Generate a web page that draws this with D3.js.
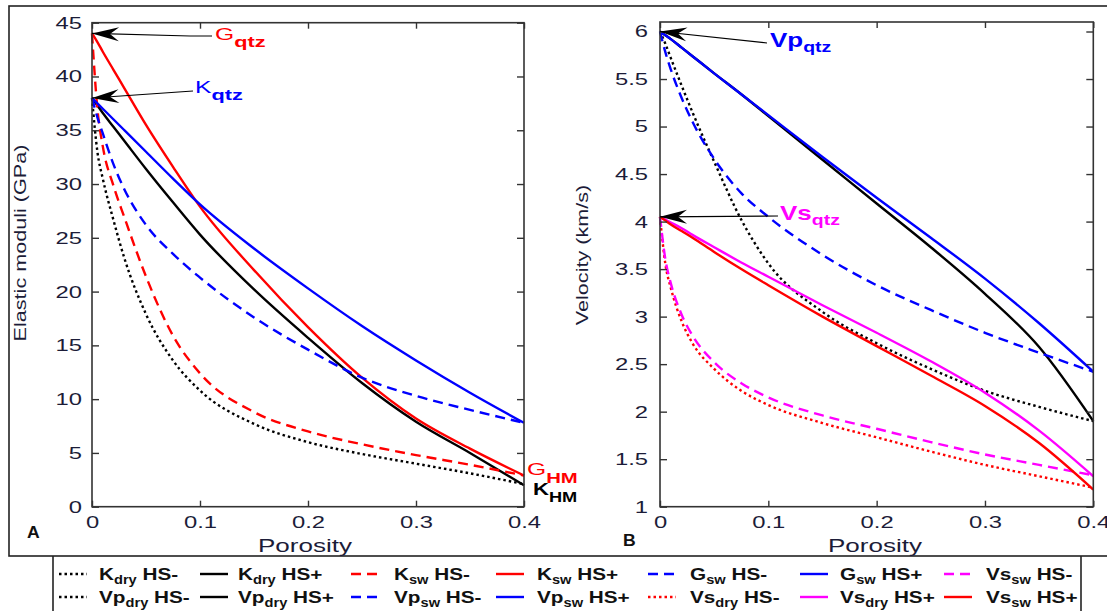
<!DOCTYPE html>
<html>
<head>
<meta charset="utf-8">
<script src="https://cdn.jsdelivr.net/npm/d3@7"></script>
<style>
  body { margin: 0; background: #fff; }
  svg { display: block; font-family: "Liberation Sans", Arial, sans-serif; }
</style>
</head>
<body>
<svg width="1107" height="611"></svg>
<script>
// porosity grid shared by all curves
var porosity = [0, 0.005, 0.01, 0.02, 0.03, 0.05, 0.075, 0.1, 0.15, 0.2, 0.25, 0.3, 0.35, 0.4];

// panel A: elastic moduli (GPa)
var kDryLo = [38, 33, 30.5, 26.6, 23.1, 17.9, 13.6, 10.8, 7.7, 6.0, 4.9, 4.0, 3.1, 2.1];
var kDryHi = [38, 37.3, 36.6, 35.3, 34.0, 31.4, 28.3, 25.3, 20.2, 15.7, 11.5, 7.9, 5.0, 2.0];
var kSwLo  = [44, 37, 33.5, 29.8, 26.9, 21.4, 15.9, 12.4, 8.8, 7.0, 5.8, 4.8, 3.9, 2.9];
var kSwHi  = [44, 43.2, 42.3, 40.6, 38.9, 35.5, 31.6, 27.9, 22.0, 16.7, 12.0, 8.2, 5.4, 2.9];
var gSwLo  = [38, 36.2, 34.7, 31.8, 29.5, 26.2, 23.5, 21.3, 17.6, 14.6, 12.0, 10.3, 9.0, 7.8];
var gSwHi  = [38, 37.5, 37.0, 36.0, 35.0, 33.0, 30.5, 28.1, 24.0, 20.3, 16.8, 13.6, 10.6, 7.8];

// panel B: velocity (km/s)
var vpDryLo = [6.0, 5.87, 5.72, 5.43, 5.15, 4.63, 4.02, 3.56, 3.05, 2.72, 2.45, 2.22, 2.05, 1.9];
var vpDryHi = [6.0, 5.96, 5.92, 5.83, 5.74, 5.56, 5.34, 5.11, 4.65, 4.19, 3.73, 3.24, 2.68, 1.9];
var vpSwLo  = [6.0, 5.78, 5.6, 5.3, 5.05, 4.66, 4.3, 4.05, 3.65, 3.33, 3.07, 2.83, 2.62, 2.42];
var vpSwHi  = [6.0, 5.96, 5.92, 5.83, 5.74, 5.56, 5.34, 5.12, 4.68, 4.25, 3.83, 3.40, 2.93, 2.42];
var vsDryLo = [4.05, 3.55, 3.3, 2.95, 2.72, 2.45, 2.22, 2.07, 1.88, 1.73, 1.58, 1.44, 1.32, 1.2];
var vsDryHi = [4.05, 4.02, 3.99, 3.93, 3.86, 3.73, 3.57, 3.42, 3.12, 2.83, 2.53, 2.2, 1.8, 1.32];
var vsSwLo  = [4.05, 3.6, 3.35, 3.02, 2.8, 2.52, 2.3, 2.15, 1.96, 1.82, 1.68, 1.55, 1.44, 1.33];
var vsSwHi  = [4.05, 4.01, 3.97, 3.9, 3.83, 3.68, 3.5, 3.33, 3.0, 2.69, 2.38, 2.06, 1.67, 1.18];

var xTicks = [0, 0.1, 0.2, 0.3, 0.4];
var yTicksA = [0, 5, 10, 15, 20, 25, 30, 35, 40, 45];
var yTicksB = [1, 1.5, 2, 2.5, 3, 3.5, 4, 4.5, 5, 5.5, 6];

var RED = "#ff0000", BLUE = "#0000ff", MAG = "#ff00ff", BLK = "#000000";
var DOT = "2.5,3", DASH = "10,6", SOLID = null;

var seriesA = [
  { v: kDryLo, c: BLK, d: DOT }, { v: kDryHi, c: BLK, d: SOLID },
  { v: kSwLo, c: RED, d: DASH }, { v: kSwHi, c: RED, d: SOLID },
  { v: gSwLo, c: BLUE, d: DASH }, { v: gSwHi, c: BLUE, d: SOLID }
];
var seriesB = [
  { v: vpDryLo, c: BLK, d: DOT }, { v: vpDryHi, c: BLK, d: SOLID },
  { v: vpSwLo, c: BLUE, d: DASH }, { v: vpSwHi, c: BLUE, d: SOLID },
  { v: vsDryLo, c: RED, d: DOT }, { v: vsDryHi, c: MAG, d: SOLID },
  { v: vsSwLo, c: MAG, d: DASH }, { v: vsSwHi, c: RED, d: SOLID }
];

// legend, two rows of seven
var legendRows = [
  [["K", "dry", " HS-", BLK, DOT], ["K", "dry", " HS+", BLK, SOLID], ["K", "sw", " HS-", RED, DASH],
   ["K", "sw", " HS+", RED, SOLID], ["G", "sw", " HS-", BLUE, DASH], ["G", "sw", " HS+", BLUE, SOLID],
   ["Vs", "sw", " HS-", MAG, DASH]],
  [["Vp", "dry", " HS-", BLK, DOT], ["Vp", "dry", " HS+", BLK, SOLID], ["Vp", "sw", " HS-", BLUE, DASH],
   ["Vp", "sw", " HS+", BLUE, SOLID], ["Vs", "dry", " HS-", RED, DOT], ["Vs", "dry", " HS+", MAG, SOLID],
   ["Vs", "sw", " HS+", RED, SOLID]]
];

var svg = d3.select("svg");
var TXT = "#1c1c38";

// text with sub-scripts, stretched horizontally like the original
function rich(g, x, y, parts, o) {
  var tr = "translate(" + x + "," + y + ")" + (o.rot ? " rotate(" + o.rot + ")" : "") + " scale(" + (o.sx || 1) + ",1)";
  var t = g.append("text").attr("transform", tr).attr("fill", o.fill || TXT)
    .attr("text-anchor", o.anchor || "start");
  var base = 0;
  parts.forEach(function(p) {
    var off = p.sub || 0;
    t.append("tspan").attr("dy", off - base).attr("font-size", p.size)
      .attr("font-weight", p.bold ? "bold" : "normal").text(p.t);
    base = off;
  });
  return t;
}

function arrow(g, x1, y1, x2, y2, via) {
  var pts = [[x1, y1]].concat(via || []).concat([[x2, y2]]);
  g.append("path").attr("d", d3.line()(pts)).attr("fill", "none").attr("stroke", "#000").attr("stroke-width", 1.2);
  var p0 = pts[pts.length - 2];
  var a = Math.atan2(y2 - p0[1], x2 - p0[0]) * 180 / Math.PI;
  g.append("path").attr("d", "M0,0L-27,-7L-18,0L-27,7Z")
    .attr("transform", "translate(" + x2 + "," + y2 + ") rotate(" + a + ")")
    .attr("fill", "#000");
}

function panel(x, y, series, yTicks, yPad) {
  var g = svg.append("g");
  var line = d3.line().x(function(d, i) { return x(porosity[i]); }).y(function(d) { return y(d); })
    .curve(d3.curveMonotoneX);

  g.selectAll("path.curve").data(series).enter().append("path")
    .attr("class", "curve")
    .attr("d", function(s) { return line(s.v); })
    .attr("fill", "none")
    .attr("stroke", function(s) { return s.c; })
    .attr("stroke-width", 2.4)
    .attr("stroke-dasharray", function(s) { return s.d; });

  var x0 = x.range()[0], x1 = x.range()[1], y0 = y.range()[0], y1 = y.range()[1];
  var fmt = d3.format("~g");

  var ax = g.append("g").attr("transform", "translate(0," + y0 + ")")
    .call(d3.axisBottom(x).tickValues(xTicks).tickSize(-6).tickSizeOuter(0).tickPadding(9).tickFormat(fmt));
  ax.selectAll("text").attr("transform", "scale(1.4,1)");
  g.append("g").attr("transform", "translate(0," + y1 + ")")
    .call(d3.axisTop(x).tickValues(xTicks).tickSize(-6).tickSizeOuter(0).tickFormat(""));
  var ay = g.append("g").attr("transform", "translate(" + x0 + ",0)")
    .call(d3.axisLeft(y).tickValues(yTicks).tickSize(-7).tickSizeOuter(0).tickFormat(fmt));
  ay.selectAll("text").attr("x", -yPad / 1.4).attr("transform", "scale(1.4,1)");
  g.append("g").attr("transform", "translate(" + x1 + ",0)")
    .call(d3.axisRight(y).tickValues(yTicks).tickSize(-7).tickSizeOuter(0).tickFormat(""));

  g.selectAll(".domain").remove();
  g.selectAll(".tick line").attr("stroke", "#333").attr("stroke-width", 1.4);
  g.selectAll(".tick text").attr("font-size", 17).attr("fill", TXT)
    .attr("font-family", "'Liberation Sans', Arial, sans-serif");

  g.append("rect").attr("x", x0).attr("y", y1).attr("width", x1 - x0).attr("height", y0 - y1)
    .attr("fill", "none").attr("stroke", "#333").attr("stroke-width", 1.6);
  return g;
}

// outer frame
svg.append("rect").attr("x", 9).attr("y", 6).attr("width", 1110).attr("height", 550)
  .attr("fill", "none").attr("stroke", "#222").attr("stroke-width", 1.6);

var xA = d3.scaleLinear().domain([0, 0.4]).range([92, 524]);
var yA = d3.scaleLinear().domain([0, 45]).range([506.7, 22.7]);
var xB = d3.scaleLinear().domain([0, 0.4]).range([660, 1093.3]);
var yB = d3.scaleLinear().domain([1, 6.1]).range([506.7, 22]);

var gA = panel(xA, yA, seriesA, yTicksA, 10);
var gB = panel(xB, yB, seriesB, yTicksB, 12);

// axis titles
rich(svg, 305, 552, [{ t: "Porosity", size: 19 }], { anchor: "middle", sx: 1.37 });
rich(svg, 875, 552, [{ t: "Porosity", size: 19 }], { anchor: "middle", sx: 1.37 });
rich(svg, 26, 243, [{ t: "Elastic moduli (GPa)", size: 16 }], { anchor: "middle", rot: -90, sx: 1.35 });
rich(svg, 588, 255, [{ t: "Velocity (km/s)", size: 16 }], { anchor: "middle", rot: -90, sx: 1.35 });
rich(svg, 27, 538, [{ t: "A", size: 16, bold: true }], { sx: 1.1, fill: "#111" });
rich(svg, 623, 546, [{ t: "B", size: 16, bold: true }], { sx: 1.1, fill: "#111" });

// annotations, panel A
arrow(svg, 212, 36, xA(0), yA(44), [[190, 36]]);
rich(svg, 215, 40, [{ t: "G", size: 17 }, { t: "qtz", size: 15, bold: true, sub: 7 }], { sx: 1.45, fill: RED });
arrow(svg, 193, 91, xA(0), yA(38));
rich(svg, 195, 93, [{ t: "K", size: 17 }, { t: "qtz", size: 15, bold: true, sub: 7 }], { sx: 1.45, fill: BLUE });
rich(svg, 527, 475, [{ t: "G", size: 17 }, { t: "HM", size: 14, bold: true, sub: 8 }], { sx: 1.45, fill: RED });
rich(svg, 533, 495, [{ t: "K", size: 17, bold: true }, { t: "HM", size: 14, bold: true, sub: 7 }], { sx: 1.3, fill: "#000" });

// annotations, panel B
arrow(svg, 767, 43, xB(0), yB(6));
rich(svg, 770, 47, [{ t: "Vp", size: 20, bold: true }, { t: "qtz", size: 15, bold: true, sub: 5 }], { sx: 1.3, fill: BLUE });
arrow(svg, 778, 216, xB(0), yB(4.05));
rich(svg, 780, 220, [{ t: "Vs", size: 20, bold: true }, { t: "qtz", size: 15, bold: true, sub: 5 }], { sx: 1.3, fill: MAG });

// legend
var lg = svg.append("g");
lg.append("line").attr("x1", 53).attr("x2", 53).attr("y1", 556).attr("y2", 612).attr("stroke", "#222").attr("stroke-width", 1.6);
lg.append("line").attr("x1", 1081).attr("x2", 1081).attr("y1", 556).attr("y2", 612).attr("stroke", "#222").attr("stroke-width", 1.6);
var sampleX = [59, 200, 351, 496, 648, 800, 944];
var textX = [99, 238, 394, 537, 690, 840, 986];
var rowY = [580, 603];
legendRows.forEach(function(row, r) {
  row.forEach(function(it, i) {
    lg.append("line").attr("x1", sampleX[i]).attr("x2", sampleX[i] + 28)
      .attr("y1", rowY[r] - 6).attr("y2", rowY[r] - 6)
      .attr("stroke", it[3]).attr("stroke-width", 2.4).attr("stroke-dasharray", it[4]);
    rich(lg, textX[i], rowY[r], [
      { t: it[0], size: 17, bold: true },
      { t: it[1], size: 12, bold: true, sub: 4 },
      { t: it[2], size: 17, bold: true, sub: 0 }
    ], { sx: 1.22, fill: "#111" });
  });
});
</script>
</body>
</html>
